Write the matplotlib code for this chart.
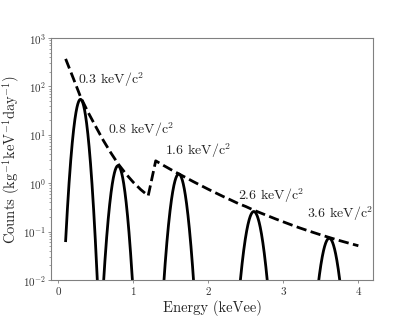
import numpy as np
import matplotlib
matplotlib.use('Agg')
import matplotlib.pyplot as plt
from matplotlib import rcParams

rcParams['mathtext.fontset'] = 'cm'
rcParams['font.family'] = 'serif'
rcParams['font.serif'] = ['cmr10']
rcParams['axes.formatter.use_mathtext'] = True

# dashed envelope (two pieces)
env_x = [0.1, 0.2, 0.3, 0.4, 0.5, 0.6, 0.7, 0.8, 0.9, 1.0, 1.1, 1.2,
         1.3, 1.4, 1.5, 1.6, 1.7, 1.8, 1.9, 2.0, 2.1, 2.2, 2.3, 2.4, 2.5,
         2.6, 2.7, 2.8, 2.9, 3.0, 3.1, 3.2, 3.3, 3.4, 3.5, 3.6, 3.7, 3.8,
         3.9, 4.0]
env_y = [370, 150, 60, 29, 14.9, 7.75, 4.3, 2.5, 1.58, 1.05, 0.74, 0.55,
         2.9, 2.35, 1.92, 1.58, 1.31, 1.08, 0.90, 0.75, 0.63, 0.53, 0.45,
         0.38, 0.33, 0.28, 0.242, 0.21, 0.182, 0.159, 0.139, 0.122, 0.108,
         0.096, 0.0855, 0.0766, 0.0687, 0.062, 0.0562, 0.051]

# signal peaks
masses = ['0.3', '0.8', '1.6', '2.6', '3.6']
peak_centre = [0.298, 0.798, 1.607, 2.607, 3.612]
peak_height = [54, 2.3, 1.55, 0.26, 0.073]
peak_sigma = [0.054, 0.058, 0.062, 0.070, 0.070]
peak_lo = [0.1, 0.45, 1.25, 2.25, 3.25]
peak_hi = [0.65, 1.15, 1.95, 2.95, 3.95]

# label positions
label_x = [0.262, 0.664, 1.42, 2.40, 3.31]
label_y = [110, 10.2, 3.8, 0.46, 0.19]

fig = plt.figure(figsize=(4.15, 3.21), dpi=100)
ax = fig.add_axes([51/415, 41/321, 322/415, 242/321])

ax.plot(env_x, env_y, 'k--', lw=2)
for c, h, s, lo, hi in zip(peak_centre, peak_height, peak_sigma, peak_lo, peak_hi):
    e = np.linspace(lo, hi, 300)
    ax.plot(e, h * np.exp(-(e - c) ** 2 / (2 * s ** 2)), 'k-', lw=2)

for m, tx, ty in zip(masses, label_x, label_y):
    ax.text(tx, ty, m + r' keV/c$^2$', fontsize=10, color='0.15')

ax.set_yscale('log')
ax.set_ylim(1e-2, 1e3)
ax.set_xticks([0, 1, 2, 3, 4])
ax.set_xlabel('Energy (keVee)', fontsize=10.5, labelpad=2, color='0.15')
ax.set_ylabel(r'Counts (kg$^{-1}$keV$^{-1}$day$^{-1}$)', fontsize=10.5,
              labelpad=0.5, color='0.15')
ax.tick_params(which='major', length=2.2, width=0.6, pad=1.5, labelsize=8,
               color='0.5', labelcolor='0.2')
ax.tick_params(which='minor', length=1.2, width=0.5, color='0.5')
for sp in ax.spines.values():
    sp.set_color('0.5')

fig.savefig('out.png', dpi=100)
